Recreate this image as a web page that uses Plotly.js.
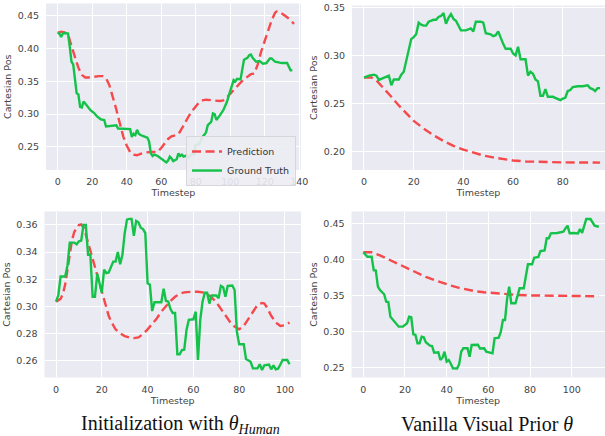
<!DOCTYPE html>
<html>
<head>
<meta charset="utf-8">
<script src="https://cdn.plot.ly/plotly-3.0.1.min.js"></script>
<style>html,body{margin:0;padding:0;background:#fff}#chart{width:605px;height:436px}</style>
</head>
<body>
<div id="chart"></div>
<script>
// ---------- Top-left: Initialization with theta_Human ----------
const tlPredX = [0,2,4,6,8,10,12,14,16,18,20,22,24,26,28,30,32,34,36,38,40,42,44,46,48,50,54,58,60,62,64,66,68,70,72,74,76,78,80,82,84,86,90,94,96,98,100,102,104,106,108,110,112,114,116,118,120,122,124,126,127,128,130,132,134,136,137];
const tlPredY = [0.424,0.426,0.425,0.422,0.404,0.386,0.371,0.360,0.356,0.356,0.357,0.357,0.358,0.358,0.355,0.344,0.327,0.307,0.286,0.266,0.252,0.242,0.238,0.237,0.239,0.241,0.242,0.242,0.248,0.256,0.262,0.266,0.268,0.269,0.278,0.288,0.297,0.305,0.312,0.318,0.321,0.322,0.321,0.320,0.321,0.325,0.331,0.337,0.343,0.348,0.353,0.357,0.361,0.362,0.376,0.396,0.412,0.428,0.443,0.455,0.457,0.457,0.454,0.450,0.446,0.440,0.438];
const tlTruthX = [0,1,2,3,4,5,6,7,8,9,10,11,12,13,14,15,16,17,18,19,21,23,25,27,28,30,32,34,35,38,40,42,43,44,45,46,47,48,50,52,53,54,55,56,58,60,62,63,64,65,66,67,69,70,71,72,73,75,76,78,79,80,82,84,86,87,89,90,91,92,94,96,98,99,100,101,102,103,104,106,107,108,110,111,112,113,115,117,119,121,123,124,126,128,130,133,134,135,136];
const tlTruthY = [0.4245,0.423,0.418,0.423,0.424,0.424,0.423,0.403,0.380,0.376,0.357,0.332,0.330,0.311,0.310,0.319,0.316,0.312,0.309,0.306,0.302,0.296,0.292,0.291,0.281,0.282,0.283,0.283,0.278,0.278,0.277,0.277,0.265,0.270,0.268,0.276,0.270,0.268,0.266,0.264,0.258,0.240,0.236,0.238,0.236,0.232,0.228,0.226,0.229,0.235,0.232,0.228,0.231,0.240,0.236,0.238,0.235,0.237,0.233,0.240,0.238,0.253,0.254,0.265,0.272,0.283,0.288,0.301,0.300,0.291,0.298,0.306,0.318,0.327,0.338,0.347,0.352,0.350,0.354,0.353,0.370,0.383,0.386,0.390,0.391,0.386,0.380,0.381,0.377,0.378,0.385,0.385,0.380,0.379,0.378,0.378,0.371,0.367,0.367];

// ---------- Top-right: Vanilla Visual Prior theta ----------
const trPredX = [0,3,5,8,11,14,17,20,24,28,32,36,40,44,48,52,56,60,65,70,75,80,85,90,95];
const trPredY = [0.277,0.277,0.274,0.266,0.257,0.248,0.240,0.232,0.224,0.217,0.211,0.206,0.202,0.199,0.196,0.194,0.192,0.1908,0.1898,0.1893,0.1889,0.1888,0.1887,0.1887,0.1886];
const trTruthX = [0,2,4,5,6,8,10,11,12,14,15,16,17,18,19,20,21,22,23,24,25,26,28,29,30,31,32,33,34,35,36,37,38,39,41,42,43,44,45,47,48,49,51,52,53,54,55,56,57,59,60,61,62,63,65,66,67,68,69,70,71,72,73,74,76,77,78,79,80,81,82,83,84,86,88,90,91,92,93,94,95];
const trTruthY = [0.277,0.279,0.280,0.279,0.2745,0.277,0.279,0.269,0.275,0.275,0.280,0.283,0.2935,0.3056,0.317,0.319,0.322,0.334,0.332,0.331,0.331,0.335,0.337,0.337,0.340,0.341,0.344,0.333,0.339,0.343,0.338,0.336,0.331,0.326,0.326,0.327,0.328,0.325,0.335,0.335,0.334,0.323,0.322,0.320,0.321,0.325,0.318,0.312,0.307,0.307,0.302,0.300,0.309,0.296,0.296,0.279,0.283,0.281,0.275,0.273,0.258,0.258,0.265,0.257,0.257,0.256,0.255,0.2536,0.255,0.256,0.263,0.264,0.267,0.268,0.268,0.269,0.266,0.265,0.263,0.266,0.266];

// ---------- Bottom-left: Initialization with theta_Human ----------
const blPredX = [0,2,3,4,5,6,7,8,9,10,11,12,13,14,15,16,17,18,19,20,21,22,23,24,25,26,28,30,32,34,36,38,40,42,44,46,48,50,52,54,56,58,60,62,64,66,68,70,72,74,76,78,80,82,84,86,88,90,91,92,94,96,98,100,102];
const blPredY = [0.3034,0.3055,0.309,0.316,0.327,0.339,0.349,0.355,0.358,0.360,0.3605,0.358,0.353,0.347,0.340,0.334,0.328,0.322,0.316,0.310,0.305,0.299,0.293,0.289,0.286,0.283,0.280,0.278,0.277,0.2765,0.277,0.2795,0.283,0.287,0.291,0.296,0.300,0.304,0.307,0.3093,0.3103,0.3108,0.3108,0.3107,0.3103,0.309,0.3065,0.303,0.298,0.293,0.2885,0.285,0.283,0.2855,0.2905,0.296,0.301,0.3025,0.302,0.2995,0.293,0.288,0.2855,0.286,0.288];
const blTruthX = [0,1,2,4,5,6,8,9,10,11,12,13,14,15,16,17,18,19,20,21,22,23,24,25,26,27,28,29,30,31,32,33,34,35,36,37,38,39,40,41,42,43,45,46,47,48,49,50,51,52,53,54,55,56,57,58,60,61,62,63,64,65,66,67,68,70,71,72,73,74,75,77,78,79,80,82,83,84,85,86,88,89,90,91,92,93,94,95,96,97,98,99,101,102];
const blTruthY = [0.3034,0.308,0.322,0.322,0.330,0.347,0.347,0.3458,0.348,0.3485,0.360,0.360,0.338,0.338,0.307,0.307,0.324,0.316,0.310,0.327,0.3245,0.325,0.329,0.333,0.333,0.340,0.331,0.338,0.354,0.364,0.3645,0.3645,0.352,0.363,0.362,0.358,0.357,0.354,0.317,0.316,0.2965,0.303,0.303,0.303,0.313,0.304,0.3035,0.298,0.295,0.295,0.2646,0.2646,0.2677,0.268,0.2825,0.290,0.2904,0.296,0.2604,0.290,0.3034,0.310,0.310,0.302,0.308,0.308,0.306,0.315,0.314,0.307,0.315,0.3153,0.312,0.2813,0.272,0.272,0.2611,0.260,0.259,0.2542,0.2542,0.2572,0.253,0.2565,0.257,0.257,0.2535,0.2565,0.2535,0.254,0.257,0.2604,0.2604,0.2572];

// ---------- Bottom-right: Vanilla Visual Prior theta ----------
const brPredX = [0,4,8,11,14,18,22,26,30,34,38,42,46,50,54,58,62,66,70,74,80,90,100,113];
const brPredY = [0.4097,0.4097,0.4055,0.4014,0.397,0.391,0.386,0.3806,0.3755,0.3713,0.367,0.3634,0.3602,0.3574,0.3555,0.3542,0.353,0.3518,0.351,0.3504,0.3498,0.3494,0.349,0.3486];
const brTruthX = [0,1,2,4,5,6,7,8,10,11,12,13,15,17,19,21,22,23,24,25,26,27,28,29,30,32,33,34,36,37,38,39,40,41,42,43,45,46,47,48,50,51,52,55,56,58,59,62,63,65,66,67,68,69,70,71,73,74,75,77,78,79,81,82,84,85,87,88,89,90,93,96,97,98,99,101,103,104,105,106,107,109,110,111,113];
const brTruthY = [0.4097,0.407,0.4036,0.4036,0.385,0.3845,0.362,0.3574,0.3514,0.341,0.3406,0.3203,0.3133,0.3064,0.3064,0.3111,0.3203,0.3195,0.2958,0.2952,0.2833,0.2833,0.2925,0.2917,0.2847,0.280,0.2796,0.2703,0.2708,0.2601,0.2633,0.2717,0.2578,0.2601,0.255,0.2486,0.2483,0.2542,0.2717,0.2764,0.2764,0.2647,0.281,0.2813,0.276,0.2764,0.2717,0.2694,0.2903,0.291,0.2995,0.3157,0.3157,0.345,0.362,0.339,0.339,0.3504,0.3597,0.3597,0.3758,0.3931,0.3931,0.4022,0.4033,0.4115,0.4123,0.4292,0.4292,0.4361,0.4366,0.4384,0.443,0.4467,0.4361,0.4366,0.436,0.4421,0.4366,0.4476,0.456,0.456,0.452,0.4467,0.4452];

const seriesNames = ['Prediction', 'Ground Truth'];
const captions = ['Initialization with <i>θ</i><sub><i>Human</i></sub>', 'Vanilla Visual Prior <i>θ</i>'];

const RED = '#f5494c', GREEN = '#14c24a';
const predLine = {color: RED, width: 2.4, dash: '9px,4.5px'};
const truthLine = {color: GREEN, width: 2.4};

function pair(px, py, tx, ty, ax, legend) {
  return [
    {x: px, y: py, xaxis: 'x' + ax, yaxis: 'y' + ax, mode: 'lines', line: predLine, name: seriesNames[0], showlegend: legend, hoverinfo: 'skip'},
    {x: tx, y: ty, xaxis: 'x' + ax, yaxis: 'y' + ax, mode: 'lines', line: truthLine, name: seriesNames[1], showlegend: legend, hoverinfo: 'skip'}
  ];
}
const data = [].concat(
  pair(tlPredX, tlPredY, tlTruthX, tlTruthY, '', true),
  pair(trPredX, trPredY, trTruthX, trTruthY, '2', false),
  pair(blPredX, blPredY, blTruthX, blTruthY, '3', false),
  pair(brPredX, brPredY, brTruthX, brTruthY, '4', false)
);

const tickFont = {family: 'DejaVu Sans', size: 9.5, color: '#444'};
const titleFont = {family: 'DejaVu Sans', size: 9.5, color: '#444'};
function xax(anchor, domain, range, dtick) {
  return {anchor: anchor, domain: domain, range: range, dtick: dtick, tick0: 0, showgrid: true, gridcolor: '#ffffff', gridwidth: 1,
    zeroline: false, showline: false, ticks: '', ticklabelstandoff: 5, tickfont: tickFont,
    title: {text: 'Timestep', font: titleFont, standoff: 2}, fixedrange: true};
}
function yax(anchor, domain, range, dtick, fmt) {
  return {anchor: anchor, domain: domain, range: range, dtick: dtick, tick0: 0, tickformat: fmt, showgrid: true, gridcolor: '#ffffff', gridwidth: 1,
    zeroline: false, showline: false, ticks: '', ticklabelstandoff: 6, tickfont: tickFont,
    title: {text: 'Cartesian Pos', font: titleFont, standoff: 4}, fixedrange: true};
}

const layout = {
  width: 605, height: 436,
  margin: {l: 0, r: 0, t: 0, b: 0},
  paper_bgcolor: '#ffffff', plot_bgcolor: '#eaeaf2',
  showlegend: true,
  legend: {x: 0.4893, xanchor: 'right', y: 0.688, yanchor: 'top', bgcolor: 'rgba(236,236,243,0.9)', bordercolor: '#d6d6dc', borderwidth: 1,
    font: {family: 'DejaVu Sans', size: 9.5, color: '#333'}, tracegroupgap: 0},
  xaxis: xax('y', [0.0760, 0.4975], [-6.78, 141.04], 20),
  yaxis: yax('x', [0.6101, 0.9920], [0.2145, 0.4691], 0.05, '.2f'),
  xaxis2: xax('y2', [0.5818, 1.0], [-4.83, 96.98], 20),
  yaxis2: yax('x2', [0.6101, 0.9874], [0.1809, 0.3519], 0.05, '.2f'),
  xaxis3: xax('y3', [0.0736, 0.4975], [-5.02, 107.0], 20),
  yaxis3: yax('x3', [0.1342, 0.5149], [0.24745, 0.36996], 0.02, '.2f'),
  xaxis4: xax('y4', [0.5810, 1.0], [-5.66, 115.98], 20),
  yaxis4: yax('x4', [0.1342, 0.5149], [0.2358, 0.4664], 0.05, '.2f'),
  annotations: [
    {text: captions[0], xref: 'paper', yref: 'paper', x: 180 / 605, y: 1 - 424 / 436, xanchor: 'center', yanchor: 'middle', showarrow: false,
     font: {family: 'Liberation Serif', size: 20, color: '#111'}},
    {text: captions[1], xref: 'paper', yref: 'paper', x: 487 / 605, y: 1 - 424 / 436, xanchor: 'center', yanchor: 'middle', showarrow: false,
     font: {family: 'Liberation Serif', size: 20, color: '#111'}}
  ]
};

Plotly.newPlot('chart', data, layout, {staticPlot: true, displayModeBar: false});
</script>
</body>
</html>
